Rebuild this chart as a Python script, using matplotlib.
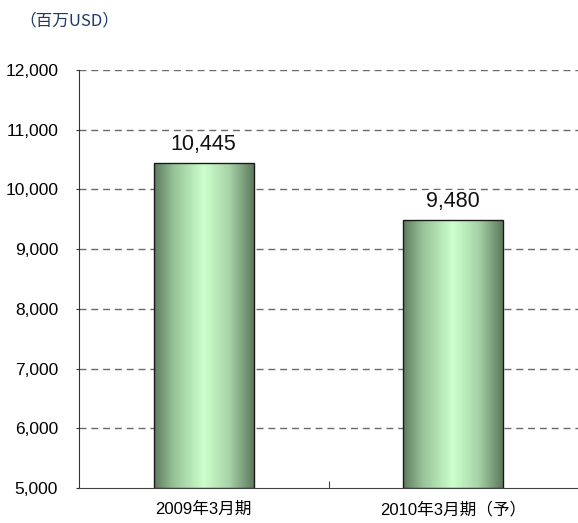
import matplotlib
matplotlib.use("Agg")
import matplotlib.pyplot as plt
import numpy as np
from matplotlib.colors import LinearSegmentedColormap
from matplotlib.transforms import blended_transform_factory, offset_copy

plt.rcParams['font.family'] = ['Liberation Sans', 'Noto Sans CJK JP', 'DejaVu Sans']
plt.rcParams['lines.scale_dashes'] = False

categories = ['2009年3月期', '2010年3月期（予）']
values = [10445, 9480]
value_labels = ['10,445', '9,480']
yticks = [5000, 6000, 7000, 8000, 9000, 10000, 11000, 12000]
ytick_labels = ['5,000', '6,000', '7,000', '8,000', '9,000', '10,000', '11,000', '12,000']
unit_label = '（百万USD）'

W, H = 578, 523
fig = plt.figure(figsize=(W / 100, H / 100), dpi=100)
ax = fig.add_axes([79 / W, (H - 488) / H, (W - 79) / W, (488 - 70) / H])

x = np.arange(len(categories))
bar_w = 0.4
cmap = LinearSegmentedColormap.from_list('g', [
    (0.0, '#5e7a5e'), (0.2, '#98c498'), (0.5, '#ccffcc'), (0.75, '#a8d4a8'), (1.0, '#5e7a5e')])
grad = np.linspace(0, 1, 256).reshape(1, -1)

for xi, v in zip(x, values):
    rect = ax.bar(xi, v - 5000, bottom=5000, width=bar_w, color='none',
                  edgecolor='#1a1a1a', linewidth=1.0, zorder=4)[0]
    im = ax.imshow(grad, cmap=cmap, aspect='auto',
                   extent=(xi - bar_w / 2, xi + bar_w / 2, 5000, v), zorder=3)
    im.set_clip_path(rect)

for xi, v, lab in zip(x, values, value_labels):
    t = offset_copy(ax.transData, fig=fig, x=0, y=8, units='dots')
    ax.text(xi, v, lab, ha='center', va='bottom', fontsize=15.5, color='#111111',
            transform=t,
            bbox=dict(facecolor='white', edgecolor='none', pad=1), zorder=5)

ax.set_xlim(-0.5, 1.5)
ax.set_ylim(5000, 12000)
ax.set_yticks(yticks)
ax.set_yticklabels(ytick_labels, fontsize=12.5)
ax.set_xticks([0.5])
ax.set_xticklabels([''])
ax.tick_params(axis='x', direction='in', length=5, color='#444444')
ax.tick_params(axis='y', direction='out', length=2, pad=13, color='#333333')

bt = blended_transform_factory(ax.transData, fig.transFigure)
for xi, c in zip(x, categories):
    ax.text(xi, 1 - 509 / H, c, ha='center', va='center', fontsize=12,
            transform=bt, family=['Liberation Sans', 'Noto Sans CJK JP'])

for yv in yticks[1:]:
    ax.axhline(yv, color='#6a6a6a', linewidth=1.0, dashes=(5, 3.5), zorder=1)

for s in ['top', 'right']:
    ax.spines[s].set_visible(False)
ax.spines['left'].set_color('#333333')
ax.spines['bottom'].set_color('#444444')

fig.text(19 / W, 1 - 21 / H, unit_label, ha='left', va='center', fontsize=12,
         color='#1f3a64', family=['Noto Sans CJK JP', 'Liberation Sans'])

fig.savefig('out.png', dpi=100)
